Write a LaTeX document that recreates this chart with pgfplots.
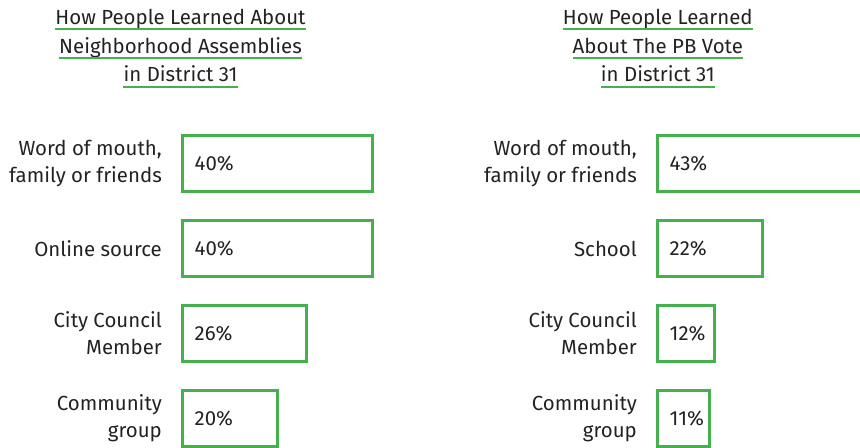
\documentclass[border=0pt]{standalone}
\usepackage{fontspec}
\setmainfont{Fira Sans}
\usepackage{pgfplots}
\pgfplotsset{compat=1.18}
\usepackage{pgfplotstable}
\usetikzlibrary{calc}

\definecolor{pbgreen}{HTML}{46AF4E}
\definecolor{txt}{HTML}{222222}

% share of respondents, category index from top
\pgfplotstableread{
idx val
0 40
1 40
2 26
3 20
}\assemblies
\pgfplotstableread{
idx val
0 43
1 22
2 12
3 11
}\pbvote

\newcommand{\lblfont}{\fontsize{20.5}{27}\selectfont}

\pgfplotsset{
  panel/.style={
    scale only axis,
    width=237.5bp, height=340bp,
    xmin=0, xmax=50, ymin=-0.5, ymax=3.5,
    y dir=reverse,
    axis line style={draw=none},
    tick style={draw=none},
    xtick=\empty,
    ytick={0,1,2,3},
    yticklabel style={align=right, anchor=east, inner sep=0pt,
      xshift=-20.5bp, font=\lblfont, text=txt},
    clip=false,
  },
  bars/.style={xbar, bar width=56bp, draw=pbgreen, fill=white, line width=3bp},
  pct/.style={draw=none, mark=none, point meta=explicit symbolic,
    nodes near coords={\pgfplotspointmeta\%},
    every node near coord/.style={anchor=west, inner sep=0pt, xshift=12bp,
      font=\lblfont, text=txt}},
}

\newcommand{\tline}[4]{%
  \node[anchor=base, inner sep=0pt, font=\lblfont, text=txt] (#4) at (#1,#2) {#3};
  \draw[pbgreen, line width=1.8bp] ($(#4.base west)+(0,-5bp)$) -- ($(#4.base east)+(0,-5bp)$);}

\begin{document}
\begin{tikzpicture}[x=1bp, y=1bp]
  \begin{axis}[panel, at={(182.5bp,327bp)}, anchor=north west,
      yticklabels={{Word of mouth,\\family or friends}, {Online source},
        {City Council\\Member}, {Community\\group}}]
    \addplot[bars] table[x=val, y=idx] {\assemblies};
    \addplot[pct] table[x expr=0, y=idx, meta=val] {\assemblies};
  \end{axis}

  \begin{axis}[panel, at={(657.5bp,327bp)}, anchor=north west,
      yticklabels={{Word of mouth,\\family or friends}, {School},
        {City Council\\Member}, {Community\\group}}]
    \addplot[bars] table[x=val, y=idx] {\pbvote};
    \addplot[pct] table[x expr=0, y=idx, meta=val] {\pbvote};
  \end{axis}

  \tline{180.5}{423.7}{How People Learned About}{a1}
  \tline{180.5}{394.7}{Neighborhood Assemblies}{a2}
  \tline{180.5}{366.3}{in District 31}{a3}
  \tline{657.8}{423.7}{How People Learned}{b1}
  \tline{657.8}{394.7}{About The PB Vote}{b2}
  \tline{657.8}{366.3}{in District 31}{b3}

  \pgfresetboundingbox
  \path[use as bounding box] (0,0) rectangle (860,448);
\end{tikzpicture}
\end{document}
